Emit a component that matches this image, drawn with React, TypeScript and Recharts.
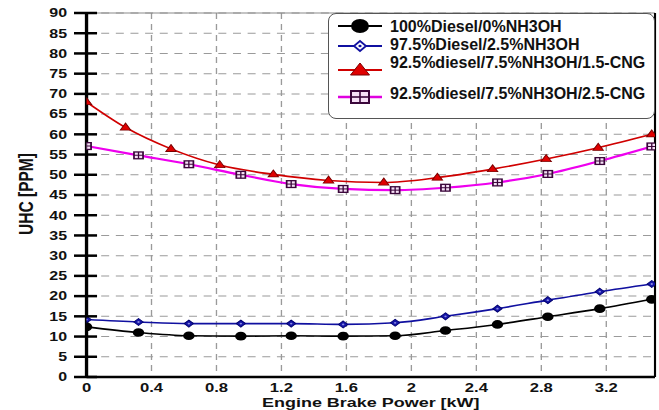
import React from "react";
import { CartesianGrid, Line, LineChart, ReferenceLine, XAxis, YAxis } from "recharts";

// the source picture is stretched horizontally, so the chart is drawn narrow and scaled
const CHART_W = 495;
const CHART_H = 410;
const SCALE = 659 / CHART_W;
const FONT = "'Liberation Sans', Arial, sans-serif";

const powerKw = [0, 0.32, 0.63, 0.95, 1.26, 1.58, 1.9, 2.21, 2.53, 2.84, 3.16, 3.48];
const powerKwCng15 = [0, 0.24, 0.52, 0.82, 1.15, 1.49, 1.83, 2.16, 2.5, 2.83, 3.15, 3.48];

const uhcDiesel = [12.4, 11.0, 10.2, 10.1, 10.2, 10.1, 10.2, 11.5, 13.0, 14.9, 16.9, 19.2];
const uhcNh3oh = [14.2, 13.6, 13.2, 13.2, 13.2, 13.0, 13.4, 15.0, 16.9, 19.0, 21.1, 23.0];
const uhcCng15 = [68.0, 61.7, 56.4, 52.4, 50.1, 48.6, 48.1, 49.3, 51.4, 53.9, 56.7, 60.0];
const uhcCng25 = [57.1, 54.8, 52.6, 50.0, 47.7, 46.5, 46.2, 46.8, 48.1, 50.2, 53.4, 57.0];

const xTicks = [0, 0.4, 0.8, 1.2, 1.6, 2, 2.4, 2.8, 3.2];
const yTicks = [0, 5, 10, 15, 20, 25, 30, 35, 40, 45, 50, 55, 60, 65, 70, 75, 80, 85, 90];

const seriesNames = [
  "100%Diesel/0%NH3OH",
  "97.5%Diesel/2.5%NH3OH",
  "92.5%diesel/7.5%NH3OH/1.5-CNG",
  "92.5%diesel/7.5%NH3OH/2.5-CNG",
];

const toPoints = (xs: number[], ys: number[]) => xs.map((x, i) => ({ x, y: ys[i] }));

const dieselData = toPoints(powerKw, uhcDiesel);
const nh3ohData = toPoints(powerKw, uhcNh3oh);
const cng15Data = toPoints(powerKwCng15, uhcCng15);
const cng25Data = toPoints(powerKw, uhcCng25);

function CircleDot(props: any) {
  const { cx, cy, index } = props;
  return <circle key={index} cx={cx} cy={cy} r={4.3} fill="#000" />;
}

function DiamondDot(props: any) {
  const { cx, cy, index } = props;
  const s = 3.5;
  return (
    <g key={index}>
      <polygon
        points={`${cx},${cy - s} ${cx + s},${cy} ${cx},${cy + s} ${cx - s},${cy}`}
        fill="#1515a8"
        stroke="#00006e"
        strokeWidth={0.8}
      />
      <circle cx={cx} cy={cy} r={0.9} fill="#8a8ae0" />
    </g>
  );
}

function TriangleDot(props: any) {
  const { cx, cy, index } = props;
  return (
    <polygon
      key={index}
      points={`${cx},${cy - 4.4} ${cx + 3.9},${cy + 2.6} ${cx - 3.9},${cy + 2.6}`}
      fill="#e00000"
      stroke="#7a0000"
      strokeWidth={0.8}
    />
  );
}

function SquareDot(props: any) {
  const { cx, cy, index } = props;
  const s = 3.4;
  return (
    <g key={index}>
      <rect x={cx - s} y={cy - s} width={2 * s} height={2 * s} fill="#f6e0f6" stroke="#3a063a" strokeWidth={1.3} />
      <line x1={cx} x2={cx} y1={cy - s} y2={cy + s} stroke="#3a063a" strokeWidth={1} />
      <line x1={cx - s} x2={cx + s} y1={cy} y2={cy} stroke="#3a063a" strokeWidth={1} />
    </g>
  );
}

function XTick(props: any) {
  const { x, y, payload } = props;
  return (
    <text x={x} y={y + 15} textAnchor="middle" fontSize={12.5} fontWeight="bold" fontFamily={FONT} fill="#111">
      {String(payload.value)}
    </text>
  );
}

// the value label plus a tick mark that crosses the axis line
function YTick(props: any) {
  const { x, y, payload } = props;
  const ax = Number(x);
  const ay = Number(y);
  return (
    <g>
      <path d={`M${ax - 9.4},${ay}H${ax + 7.9}`} stroke="#000" strokeWidth={2.5} fill="none" />
      <text x={ax - 14.6} y={ay} dy="0.36em" textAnchor="end" fontSize={12} fontWeight="bold" fontFamily={FONT} fill="#111">
        {String(payload.value)}
      </text>
    </g>
  );
}

function LegendMarker({ kind }: { kind: number }) {
  // drawn in screen pixels, markers look squashed like in the source
  const cx = 22;
  const cy = 8;
  return (
    <svg width={46} height={16} style={{ position: "absolute", left: 338, overflow: "visible" }}>
      {kind === 0 && (
        <>
          <line x1={0} x2={44} y1={cy} y2={cy} stroke="#000" strokeWidth={2} />
          <ellipse cx={cx} cy={cy} rx={9} ry={7} fill="#000" />
        </>
      )}
      {kind === 1 && (
        <>
          <line x1={0} x2={44} y1={cy} y2={cy} stroke="#1010a0" strokeWidth={2} />
          <polygon
            points={`${cx},${cy - 5} ${cx + 6},${cy} ${cx},${cy + 5} ${cx - 6},${cy}`}
            fill="#fff"
            stroke="#1010a0"
            strokeWidth={1.8}
          />
          <ellipse cx={cx} cy={cy} rx={1.6} ry={1.3} fill="#1010a0" />
        </>
      )}
      {kind === 2 && (
        <>
          <line x1={0} x2={44} y1={cy} y2={cy} stroke="#d00000" strokeWidth={2} />
          <polygon
            points={`${cx},${cy - 7} ${cx + 9.5},${cy + 5} ${cx - 9.5},${cy + 5}`}
            fill="#e00000"
            stroke="#7a0000"
            strokeWidth={1}
          />
        </>
      )}
      {kind === 3 && (
        <>
          <line x1={0} x2={44} y1={cy} y2={cy} stroke="#e000e0" strokeWidth={2.4} />
          <rect x={cx - 9} y={cy - 6} width={18} height={12} fill="#f6e0f6" stroke="#3a063a" strokeWidth={2} />
          <line x1={cx} x2={cx} y1={cy - 6} y2={cy + 6} stroke="#3a063a" strokeWidth={1.6} />
          <line x1={cx - 9} x2={cx + 9} y1={cy} y2={cy} stroke="#3a063a" strokeWidth={1.6} />
        </>
      )}
    </svg>
  );
}

const legendLineY = [26, 46, 70, 97];
const legendTextY = [27, 45, 63, 94];

export default function App() {
  return (
    <div
      style={{
        position: "absolute",
        left: 0,
        top: 0,
        width: 659,
        height: 410,
        background: "#fff",
        overflow: "hidden",
        fontFamily: FONT,
      }}
    >
      <div style={{ width: CHART_W, height: CHART_H, transform: `scaleX(${SCALE})`, transformOrigin: "0 0" }}>
        <LineChart width={CHART_W} height={CHART_H} margin={{ top: 13, right: 3, bottom: 0, left: 0 }}>
          <CartesianGrid stroke="#9a9a9a" strokeDasharray="6 5" strokeWidth={1} />
          <XAxis
            dataKey="x"
            type="number"
            domain={[0, 3.5]}
            ticks={xTicks}
            interval={0}
            height={33}
            tickLine={false}
            tickSize={0}
            tickMargin={0}
            tick={<XTick />}
            axisLine={{ stroke: "#000", strokeWidth: 2.5 }}
            allowDataOverflow
            label={{
              value: "Engine Brake Power [kW]",
              position: "insideBottom",
              offset: 3,
              fontSize: 13.5,
              fontWeight: "bold",
              fill: "#111",
              fontFamily: FONT,
            }}
          />
          <ReferenceLine y={90} stroke="#8a8a8a" strokeWidth={1} />
          <ReferenceLine x={3.5} stroke="#000" strokeWidth={1.6} />
          <Line
            data={cng15Data}
            dataKey="y"
            name={seriesNames[2]}
            type="monotone"
            stroke="#d00000"
            strokeWidth={1.6}
            dot={TriangleDot}
            isAnimationActive={false}
          />
          <Line
            data={cng25Data}
            dataKey="y"
            name={seriesNames[3]}
            type="monotone"
            stroke="#ee00ee"
            strokeWidth={2.2}
            dot={SquareDot}
            isAnimationActive={false}
          />
          <Line
            data={nh3ohData}
            dataKey="y"
            name={seriesNames[1]}
            type="monotone"
            stroke="#1010a0"
            strokeWidth={1.6}
            dot={DiamondDot}
            isAnimationActive={false}
          />
          <Line
            data={dieselData}
            dataKey="y"
            name={seriesNames[0]}
            type="monotone"
            stroke="#000"
            strokeWidth={1.6}
            dot={CircleDot}
            isAnimationActive={false}
          />
          <YAxis
            type="number"
            domain={[0, 90]}
            ticks={yTicks}
            interval={0}
            width={65}
            tickSize={0}
            tickMargin={0}
            tickLine={false}
            tick={YTick}
            axisLine={{ stroke: "#000", strokeWidth: 2.5 }}
          />
        </LineChart>
      </div>

      {/* y axis title, rotated and widened like the stretched source */}
      <div style={{ position: "absolute", left: 26, top: 194, width: 0, height: 0 }}>
        <span
          style={{
            position: "absolute",
            left: 0,
            top: 0,
            transform: "translate(-50%, -50%) rotate(-90deg) scaleY(1.33)",
            fontSize: 15.5,
            lineHeight: "18px",
            fontWeight: "bold",
            color: "#111",
            whiteSpace: "nowrap",
          }}
        >
          UHC [PPM]
        </span>
      </div>

      <div
        style={{
          position: "absolute",
          left: 328,
          top: 13,
          width: 327,
          height: 106,
          boxSizing: "border-box",
          border: "1.3px solid #555",
          borderRadius: 8,
          background: "#fff",
        }}
      />
      {seriesNames.map((name, i) => (
        <div key={name} style={{ position: "absolute", left: 0, top: 0 }}>
          <div style={{ position: "absolute", top: legendLineY[i] - 8, left: 0 }}>
            <LegendMarker kind={i} />
          </div>
          <span
            style={{
              position: "absolute",
              left: 390,
              top: legendTextY[i] - 9,
              fontSize: 16,
              lineHeight: "18px",
              fontWeight: "bold",
              color: "#111",
              whiteSpace: "nowrap",
            }}
          >
            {name}
          </span>
        </div>
      ))}
    </div>
  );
}
